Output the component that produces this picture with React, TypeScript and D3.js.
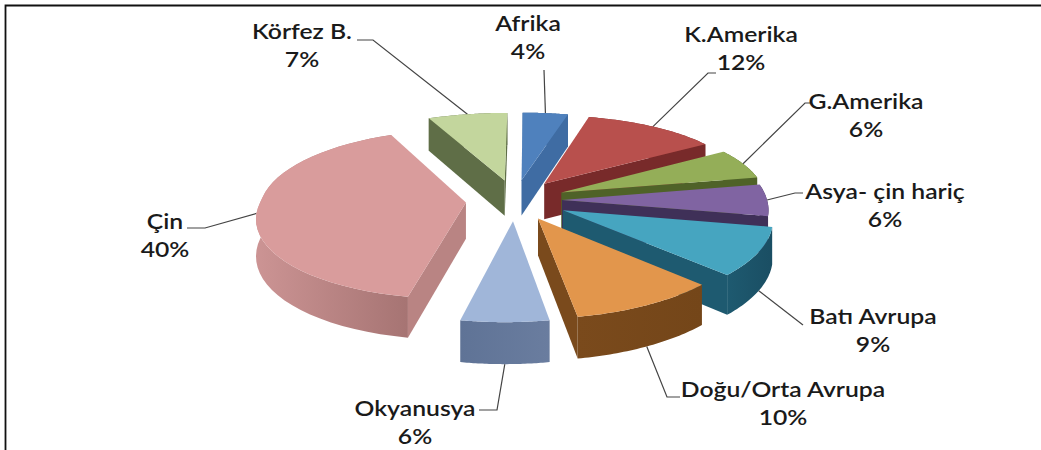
// App.tsx - exploded 3D pie of regional shares
import React, { useEffect, useRef } from "react";
import * as d3 from "d3";

const categories = ["Afrika", "K.Amerika", "G.Amerika", "Asya- çin hariç", "Batı Avrupa", "Doğu/Orta Avrupa", "Okyanusya", "Çin", "Körfez B."];
const shares = [4, 12, 6, 6, 9, 10, 6, 40, 7];

const topColors = ["#4f81bd", "#b8504d", "#94ae58", "#8064a2", "#46a5c0", "#e2964c", "#a0b6d9", "#d99c9c", "#c3d69d"];
const wallFrom = ["#3c6698", "#7a2d2b", "#4f6228", "#3f3058", "#1e5a70", "#7a4a1c", "#5f7396", "#cc9494", "#5f6e47"];
const wallTo = ["#3c6698", "#7a2d2b", "#4f6228", "#3f3058", "#1a4e63", "#744619", "#6a7d9f", "#a67473", "#5f6e47"];
const cutColors = ["#3f6ca3", "#782a2a", "#4f6228", "#3f3058", "#1e5a70", "#7a4a1c", "#5f7396", "#b98483", "#5f6e47"];

// how far each slice is pulled out of the pie
const explodeBy = [50, 50, 50, 47, 54, 50, 50, 49, 50];

// label placement: centre x, first baseline y, leader elbow and leader end
const labelX = [528, 741, 866, 885, 873, 783, 415, 165, 302];
const labelY = [31, 42, 109, 199, 324, 397, 416, 229, 39];
const elbowA = [[544, 70], [708, 73], [805, 103], [795, 193], [803, 325], [667, 397], [497, 410], [205, 228], [373, 40]];
const elbowB = [[544, 70], [716, 73], [812, 103], [803, 193], [803, 325], [680, 397], [479, 410], [187, 228], [357, 40]];

const width = 1041;
const height = 450;
const cx = 515;
const cy = 200;
const radius = 205;
const squash = 0.411;
const depth = 36;
const fontSize = 21.5;
const stretchX = 1.15;

// x right, y towards the viewer, z height of the slice
// the front of the pie grows faster than the back shrinks, and leans left a bit
function project(x: number, y: number, z: number): [number, number] {
  const fx = 1 + (y > 0 ? 0.00065 : 0.00044) * y;
  const fy = 1 + 0.00065 * y;
  const lean = (y > 0 ? -0.04 : -0.008) * y;
  return [cx + x * fx + lean, cy + y * squash * fy + z * fx];
}

export default function App() {
  const svgRef = useRef<SVGSVGElement>(null);

  useEffect(() => {
    if (!svgRef.current) return;
    const svg = d3.select(svgRef.current);
    svg.selectAll("*").remove();
    svg.attr("viewBox", `0 0 ${width} ${height}`);

    svg.append("rect").attr("width", width).attr("height", height).attr("fill", "#fff");
    svg.append("path")
      .attr("d", `M5.5,${height}V5.5H${width}`)
      .attr("fill", "none")
      .attr("stroke", "#111")
      .attr("stroke-width", 1.8);

    const arcs = d3.pie<number>().sort(null).value((d) => d).startAngle(0).endAngle(2 * Math.PI)(shares);
    const line = d3.line();
    const defs = svg.append("defs");

    const slices = arcs.map((a, i) => {
      const mid = (a.startAngle + a.endAngle) / 2;
      const ox = Math.sin(mid) * explodeBy[i];
      const oy = -Math.cos(mid) * explodeBy[i];
      const at = (angle: number, r: number, z: number) =>
        project(ox + Math.sin(angle) * r, oy - Math.cos(angle) * r, z);
      const steps = d3.range(0, 41).map((k) => a.startAngle + ((a.endAngle - a.startAngle) * k) / 40);
      return { a, i, mid, at, steps };
    });

    // leaders go under the slices, the front ones run to the lower rim
    slices.forEach(({ mid, at, i }) => {
      const z = Math.cos(mid) < -0.3 ? depth : 0;
      svg.append("path")
        .attr("d", line([at(mid, radius, z), elbowA[i] as [number, number], elbowB[i] as [number, number]]))
        .attr("fill", "none")
        .attr("stroke", "#444")
        .attr("stroke-width", 1.2);
    });

    slices
      .slice()
      .sort((p, q) => -Math.cos(p.mid) + Math.cos(q.mid))
      .forEach(({ a, i, at, steps }) => {
        const g = svg.append("g");
        const rim = steps.map((t) => at(t, radius, 0));
        const rimLow = steps.map((t) => at(t, radius, depth)).reverse();

        const gradId = `wall${i}`;
        const xs = rim.map((p) => p[0]);
        const grad = defs.append("linearGradient")
          .attr("id", gradId)
          .attr("gradientUnits", "userSpaceOnUse")
          .attr("x1", d3.min(xs)!)
          .attr("x2", d3.max(xs)!)
          .attr("y1", 0)
          .attr("y2", 0);
        grad.append("stop").attr("offset", 0).attr("stop-color", wallFrom[i]);
        grad.append("stop").attr("offset", 1).attr("stop-color", wallTo[i]);

        g.append("path").attr("d", line([...rim, ...rimLow]) + "Z").attr("fill", `url(#${gradId})`);

        // only the cut faces turned towards the viewer
        const cutFace = (angle: number) =>
          line([at(angle, 0, 0), at(angle, radius, 0), at(angle, radius, depth), at(angle, 0, depth)]) + "Z";
        if (Math.sin(a.endAngle) > 0) g.append("path").attr("d", cutFace(a.endAngle)).attr("fill", cutColors[i]);
        if (Math.sin(a.startAngle) < 0) g.append("path").attr("d", cutFace(a.startAngle)).attr("fill", cutColors[i]);

        g.append("path").attr("d", line([at(0, 0, 0), ...rim]) + "Z").attr("fill", topColors[i]);
      });

    const text = svg.append("g")
      .attr("font-family", "Lato, 'Open Sans', sans-serif")
      .attr("font-size", fontSize)
      .attr("font-weight", 600)
      .attr("fill", "#1a1a1a")
      .attr("text-anchor", "middle");

    // the source picture is stretched sideways, so the labels are too
    const put = (str: string, x: number, y: number) =>
      text.append("text").attr("transform", `translate(${x},${y}) scale(${stretchX},1)`).text(str);

    categories.forEach((name, i) => {
      put(name, labelX[i], labelY[i]);
      put(`${shares[i]}%`, labelX[i], labelY[i] + 28);
    });
  }, []);

  return <svg ref={svgRef} width={width} height={height} style={{ position: "absolute", left: 0, top: 0, display: "block" }} />;
}
